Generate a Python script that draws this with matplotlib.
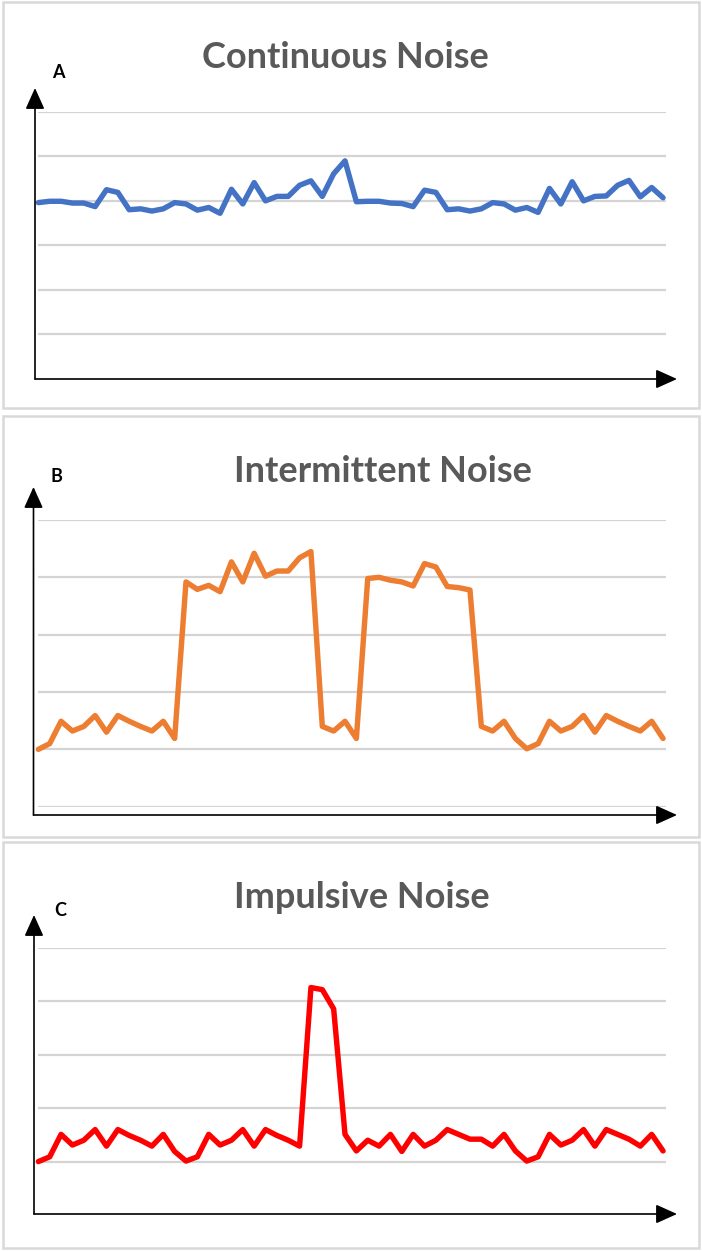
import matplotlib
matplotlib.use("Agg")
import matplotlib.pyplot as plt
from matplotlib.patches import Rectangle, FancyArrowPatch

plt.rcParams['font.family'] = ['Lato', 'DejaVu Sans']

W, H = 702, 1251

# one value per sample (56 samples per panel)
continuous = [3.96, 3.99, 3.99, 3.95, 3.95, 3.87, 4.25, 4.19, 3.80, 3.82,
              3.77, 3.82, 3.96, 3.93, 3.79, 3.85, 3.72, 4.26, 3.93, 4.41,
              4.00, 4.10, 4.10, 4.35, 4.45, 4.10, 4.61, 4.90,
              3.98, 3.99, 3.99, 3.95, 3.94, 3.87, 4.24, 4.19, 3.80, 3.82,
              3.77, 3.82, 3.96, 3.93, 3.79, 3.85, 3.74, 4.28, 3.93, 4.43,
              4.00, 4.10, 4.11, 4.35, 4.46, 4.09, 4.30, 4.07]

intermittent = [1.00, 1.10, 1.49, 1.32, 1.40, 1.59, 1.30, 1.59, 1.49, 1.40,
                1.32, 1.49, 1.19, 3.92, 3.79, 3.86, 3.75, 4.27, 3.92, 4.42,
                4.02, 4.11, 4.11, 4.34, 4.45, 1.40, 1.32, 1.49,
                1.19, 3.98, 4.00, 3.95, 3.92, 3.85, 4.24, 4.18, 3.84, 3.82,
                3.78, 1.40, 1.32, 1.49, 1.19, 1.01, 1.10, 1.49, 1.32, 1.40,
                1.59, 1.30, 1.59, 1.49, 1.40, 1.32, 1.49, 1.19]

impulsive = [1.00, 1.09, 1.51, 1.31, 1.40, 1.60, 1.29, 1.60, 1.49, 1.40,
             1.29, 1.51, 1.19, 1.01, 1.09, 1.51, 1.31, 1.40, 1.60, 1.29,
             1.60, 1.49, 1.40, 1.29, 4.26, 4.22, 3.86, 1.51,
             1.20, 1.40, 1.29, 1.51, 1.19, 1.51, 1.29, 1.40, 1.60, 1.51,
             1.42, 1.42, 1.29, 1.51, 1.20, 1.01, 1.09, 1.51, 1.31, 1.40,
             1.60, 1.29, 1.60, 1.51, 1.42, 1.29, 1.51, 1.20]

titles = ["Continuous Noise", "Intermittent Noise", "Impulsive Noise"]
letters = ["A", "B", "C"]
colors = ["#4472C4", "#ED7D31", "#FF0000"]
series = [continuous, intermittent, impulsive]
n_grid = [6, 5, 5]

# layout in pixels: box (top, bottom), plot (top, bottom), x-axis y, y-arrow tip,
# y-axis x, title centre (x, y), letter (x, y)
layout = [
    dict(box=(2, 408), plot=(112, 378.5), xaxis=379, ytip=88, yx=35,
         title=(345, 58), letter=(58, 73), zero_grid=False),
    dict(box=(416, 837), plot=(520, 806.7), xaxis=815, ytip=487, yx=33.5,
         title=(383, 471), letter=(56, 476), zero_grid=True),
    dict(box=(842, 1248), plot=(948, 1215), xaxis=1214, ytip=915, yx=34,
         title=(362, 897), letter=(60, 910), zero_grid=False),
]

fig = plt.figure(figsize=(W / 100, H / 100), dpi=100)
fig.patch.set_facecolor("white")


def fx(px):
    return px / W


def fy(py):
    return 1 - py / H


for vals, title, letter, col, ng, lay in zip(series, titles, letters, colors, n_grid, layout):
    # panel frame
    top, bot = lay["box"]
    fig.patches.append(Rectangle((fx(2.5), fy(bot)), fx(696), (bot - top) / H,
                                 transform=fig.transFigure, fill=False,
                                 edgecolor="#D9D9D9", linewidth=1.8))

    ptop, pbot = lay["plot"]
    ax = fig.add_axes([fx(38), fy(pbot), fx(666 - 38), (pbot - ptop) / H])
    ax.set_xlim(-0.03, 55.26)
    ax.set_ylim(0, ng)
    for g in range(0 if lay["zero_grid"] else 1, ng + 1):
        ax.axhline(g, color="#D4D4D4", linewidth=1.6, zorder=1)
    ax.plot(range(len(vals)), vals, color=col, linewidth=3.9,
            solid_joinstyle="round", solid_capstyle="round", zorder=3, clip_on=False)
    ax.axis("off")

    # hand-drawn style axes with arrow heads
    arrow = dict(arrowstyle="-|>,head_length=1.0,head_width=0.45",
                 color="black", linewidth=1.2, shrinkA=0, shrinkB=0)
    fig.add_artist(FancyArrowPatch(
        (fx(lay["yx"]), fy(lay["xaxis"])), (fx(677), fy(lay["xaxis"])),
        transform=fig.transFigure, mutation_scale=13, **arrow))
    fig.add_artist(FancyArrowPatch(
        (fx(lay["yx"]), fy(lay["xaxis"])), (fx(lay["yx"]), fy(lay["ytip"])),
        transform=fig.transFigure, mutation_scale=13, **arrow))

    tx, ty = lay["title"]
    fig.text(fx(tx), fy(ty), title, ha="center", va="center", fontsize=26,
             fontweight="bold", color="#595959")
    lx, ly = lay["letter"]
    fig.text(fx(lx), fy(ly), letter, ha="center", va="center", fontsize=13,
             fontweight="bold", color="black")

fig.savefig("out.png", dpi=100, facecolor="white")
